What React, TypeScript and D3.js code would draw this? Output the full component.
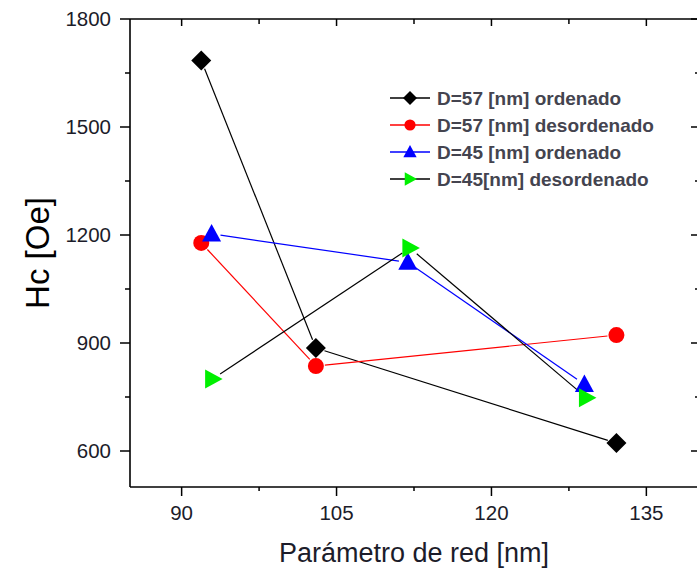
import React from "react";
import * as d3 from "d3";

// Lattice parameter (nm) vs coercive field Hc (Oe)
const seriesNames = [
  "D=57 [nm] ordenado",
  "D=57 [nm] desordenado",
  "D=45 [nm] ordenado",
  "D=45[nm] desordenado",
];
const d57OrdX = [91.9, 103.0, 132.1];
const d57OrdY = [1685, 886, 622];
const d57DesX = [91.9, 103.0, 132.1];
const d57DesY = [1178, 836, 922];
const d45OrdX = [92.9, 111.9, 129.0];
const d45OrdY = [1203, 1124, 785];
const d45DesX = [93.0, 112.1, 129.2];
const d45DesY = [800, 1164, 748];

const xTicks = [90, 105, 120, 135];
const xMinor = [97.5, 112.5, 127.5];
const yTicks = [600, 900, 1200, 1500, 1800];
const yMinor = [750, 1050, 1350, 1650];

const W = 697;
const H = 571;
const left = 130;
const right = 698;
const top = 19;
const bottom = 487;

type Shape = "diamond" | "circle" | "up" | "right";

const series = [
  { name: seriesNames[0], xs: d57OrdX, ys: d57OrdY, fill: "#000000", line: "#000000", shape: "diamond" as Shape },
  { name: seriesNames[1], xs: d57DesX, ys: d57DesY, fill: "#ff0000", line: "#ff0000", shape: "circle" as Shape },
  { name: seriesNames[2], xs: d45OrdX, ys: d45OrdY, fill: "#0000ff", line: "#0000ff", shape: "up" as Shape },
  { name: seriesNames[3], xs: d45DesX, ys: d45DesY, fill: "#00f000", line: "#000000", shape: "right" as Shape },
];

function markerPath(shape: Shape, cx: number, cy: number, s: number): string {
  const p = d3.path();
  if (shape === "diamond") {
    p.moveTo(cx, cy - s);
    p.lineTo(cx + s, cy);
    p.lineTo(cx, cy + s);
    p.lineTo(cx - s, cy);
    p.closePath();
  } else if (shape === "circle") {
    p.arc(cx, cy, s * 0.8, 0, Math.PI * 2);
  } else if (shape === "up") {
    p.moveTo(cx, cy - s);
    p.lineTo(cx + s * 0.95, cy + s * 0.75);
    p.lineTo(cx - s * 0.95, cy + s * 0.75);
    p.closePath();
  } else {
    p.moveTo(cx - s * 0.75, cy - s * 0.95);
    p.lineTo(cx + s, cy);
    p.lineTo(cx - s * 0.75, cy + s * 0.95);
    p.closePath();
  }
  return p.toString();
}

export default function App() {
  const x = d3.scaleLinear().domain([85, 140]).range([left, right]);
  const y = d3.scaleLinear().domain([500, 1800]).range([bottom, top]);
  const gap = 9;
  const font = "'Liberation Sans', Arial, sans-serif";
  const tickColor = "#1c1c2a";

  const segments = (xs: number[], ys: number[]) => {
    const out: { x1: number; y1: number; x2: number; y2: number }[] = [];
    for (let i = 0; i < xs.length - 1; i++) {
      const ax = x(xs[i]), ay = y(ys[i]);
      const bx = x(xs[i + 1]), by = y(ys[i + 1]);
      const len = Math.hypot(bx - ax, by - ay);
      const ux = (bx - ax) / len, uy = (by - ay) / len;
      out.push({ x1: ax + ux * gap, y1: ay + uy * gap, x2: bx - ux * gap, y2: by - uy * gap });
    }
    return out;
  };

  const legendX = 390;
  const legendY0 = 98;
  const legendDy = 27;

  return (
    <svg
      width={W}
      height={H}
      style={{ position: "absolute", left: 0, top: 0, background: "#fff" }}
      fontFamily={font}
    >
      <rect x={0} y={0} width={W} height={H} fill="#fff" />

      {/* data lines */}
      {series.map((s, si) =>
        segments(s.xs, s.ys).map((g, i) => (
          <line key={`l${si}-${i}`} x1={g.x1} y1={g.y1} x2={g.x2} y2={g.y2} stroke={s.line} strokeWidth={1.2} />
        ))
      )}

      {/* markers */}
      {series.map((s, si) =>
        s.xs.map((v, i) => (
          <path key={`m${si}-${i}`} d={markerPath(s.shape, x(v), y(s.ys[i]), 10)} fill={s.fill} />
        ))
      )}

      {/* frame */}
      <line x1={left} y1={top} x2={left} y2={bottom} stroke="#000" strokeWidth={1.6} />
      <line x1={left} y1={bottom} x2={right} y2={bottom} stroke="#000" strokeWidth={1.6} />
      <line x1={left} y1={top} x2={right} y2={top} stroke="#000" strokeWidth={1.6} />
      <line x1={right} y1={top} x2={right} y2={bottom} stroke="#000" strokeWidth={1.6} />

      {/* bottom axis ticks */}
      {xTicks.map((t) => (
        <g key={`xt${t}`}>
          <line x1={x(t)} x2={x(t)} y1={bottom} y2={bottom + 9} stroke="#000" strokeWidth={1.5} />
          <line x1={x(t)} x2={x(t)} y1={top} y2={top + 7} stroke="#000" strokeWidth={1.5} />
          <text x={x(t)} y={bottom + 33} textAnchor="middle" fontSize={20.5} fill={tickColor}>
            {t}
          </text>
        </g>
      ))}
      {xMinor.map((t) => (
        <g key={`xm${t}`}>
          <line x1={x(t)} x2={x(t)} y1={bottom} y2={bottom + 4} stroke="#000" strokeWidth={1.5} />
          <line x1={x(t)} x2={x(t)} y1={top} y2={top + 5} stroke="#000" strokeWidth={1.5} />
        </g>
      ))}

      {/* left axis ticks */}
      {yTicks.map((t) => (
        <g key={`yt${t}`}>
          <line x1={left - 10} x2={left} y1={y(t)} y2={y(t)} stroke="#000" strokeWidth={1.5} />
          <line x1={right - 7} x2={right} y1={y(t)} y2={y(t)} stroke="#000" strokeWidth={1.5} />
          <text x={left - 19} y={y(t)} dy="0.36em" textAnchor="end" fontSize={20.5} fill={tickColor}>
            {t}
          </text>
        </g>
      ))}
      {yMinor.map((t) => (
        <g key={`ym${t}`}>
          <line x1={left - 5} x2={left} y1={y(t)} y2={y(t)} stroke="#000" strokeWidth={1.5} />
          <line x1={right - 3} x2={right} y1={y(t)} y2={y(t)} stroke="#000" strokeWidth={1.5} />
        </g>
      ))}

      {/* axis titles */}
      <text x={414} y={562} textAnchor="middle" fontSize={27} fill={tickColor}>
        Parámetro de red [nm]
      </text>
      <text
        transform={`translate(49, ${253}) rotate(-90)`}
        textAnchor="middle"
        fontSize={33}
        fill="#000"
      >
        Hc [Oe]
      </text>

      {/* legend */}
      {series.map((s, i) => {
        const cy = legendY0 + i * legendDy;
        return (
          <g key={`lg${i}`}>
            <line x1={legendX} x2={legendX + 40} y1={cy} y2={cy} stroke={s.line} strokeWidth={1.5} />
            <path d={markerPath(s.shape, legendX + 20, cy, 7)} fill={s.fill} />
            <text x={legendX + 47} y={cy} dy="0.36em" fontSize={19} fill="#44444f" fontWeight={600}>
              {s.name}
            </text>
          </g>
        );
      })}
    </svg>
  );
}
